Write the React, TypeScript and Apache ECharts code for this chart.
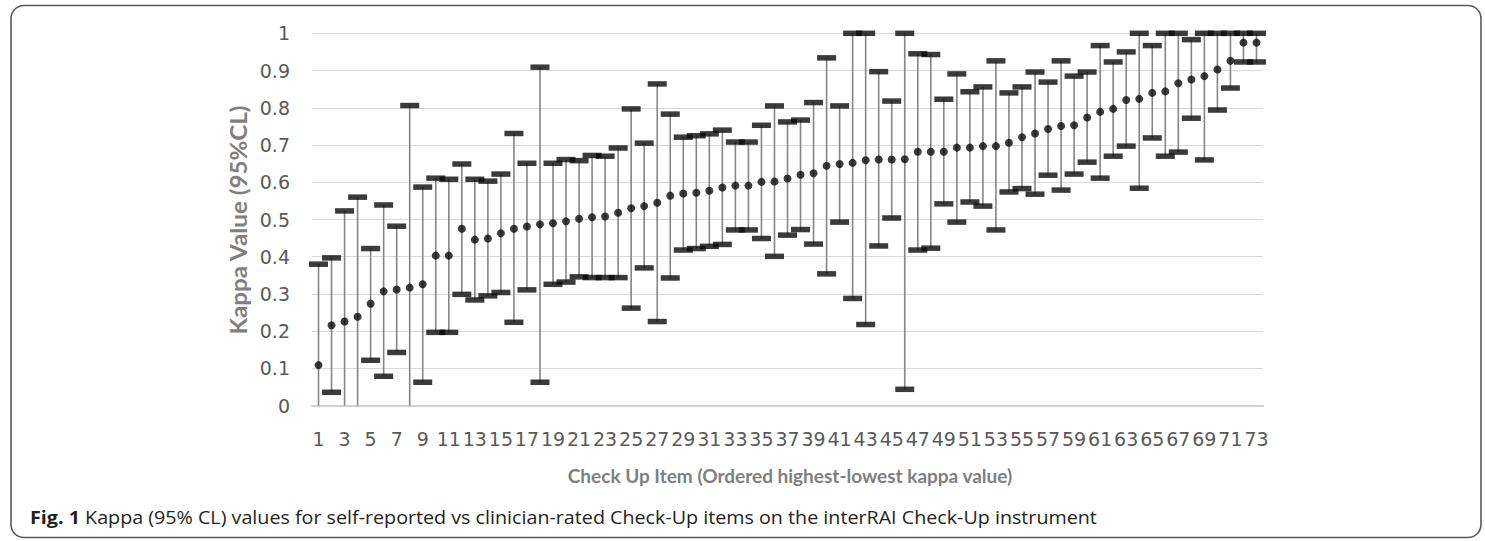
import React, { useEffect, useRef } from "react";
import * as echarts from "echarts";

// Check Up items (ordered), 1..73
const items: string[] = [
  "1","2","3","4","5","6","7","8","9","10","11","12","13","14","15","16","17","18","19","20",
  "21","22","23","24","25","26","27","28","29","30","31","32","33","34","35","36","37","38","39","40",
  "41","42","43","44","45","46","47","48","49","50","51","52","53","54","55","56","57","58","59","60",
  "61","62","63","64","65","66","67","68","69","70","71","72","73",
];

// Kappa point estimates
const kappa: number[] = [
  0.109, 0.216, 0.226, 0.239, 0.274, 0.307, 0.312, 0.317, 0.326, 0.403,
  0.403, 0.475, 0.446, 0.449, 0.463, 0.475, 0.481, 0.487, 0.490, 0.495,
  0.502, 0.506, 0.508, 0.518, 0.530, 0.536, 0.545, 0.564, 0.570, 0.572,
  0.577, 0.586, 0.591, 0.591, 0.601, 0.602, 0.610, 0.620, 0.624, 0.644,
  0.649, 0.652, 0.659, 0.661, 0.661, 0.662, 0.682, 0.682, 0.682, 0.693,
  0.693, 0.697, 0.697, 0.706, 0.721, 0.731, 0.743, 0.751, 0.753, 0.774,
  0.789, 0.797, 0.821, 0.824, 0.840, 0.844, 0.866, 0.876, 0.885, 0.903,
  0.926, 0.975, 0.975,
];

// Upper 95% confidence limit
const upperCL: number[] = [
  0.380, 0.397, 0.523, 0.560, 0.422, 0.539, 0.482, 0.806, 0.587, 0.611,
  0.608, 0.649, 0.608, 0.603, 0.622, 0.731, 0.651, 0.909, 0.651, 0.661,
  0.658, 0.672, 0.670, 0.692, 0.797, 0.705, 0.864, 0.783, 0.721, 0.725,
  0.730, 0.740, 0.708, 0.708, 0.753, 0.805, 0.762, 0.767, 0.814, 0.934,
  0.805, 1.000, 1.000, 0.897, 0.818, 1.000, 0.945, 0.943, 0.823, 0.891,
  0.843, 0.856, 0.926, 0.840, 0.856, 0.896, 0.869, 0.926, 0.885, 0.896,
  0.967, 0.923, 0.950, 1.000, 0.967, 1.000, 1.000, 0.983, 1.000, 1.000,
  1.000, 1.000, 1.000,
];

// Lower 95% confidence limit (0 = below the axis, clipped)
const lowerCL: number[] = [
  0.000, 0.036, 0.000, 0.000, 0.122, 0.079, 0.143, 0.000, 0.063, 0.197,
  0.197, 0.299, 0.284, 0.295, 0.304, 0.224, 0.311, 0.063, 0.326, 0.332,
  0.346, 0.344, 0.344, 0.344, 0.262, 0.370, 0.226, 0.343, 0.418, 0.422,
  0.428, 0.433, 0.472, 0.472, 0.449, 0.401, 0.458, 0.473, 0.434, 0.354,
  0.493, 0.288, 0.218, 0.429, 0.504, 0.044, 0.418, 0.423, 0.542, 0.493,
  0.547, 0.536, 0.472, 0.574, 0.583, 0.568, 0.619, 0.579, 0.622, 0.654,
  0.611, 0.670, 0.697, 0.584, 0.719, 0.670, 0.681, 0.772, 0.660, 0.794,
  0.853, 0.923, 0.923,
];

const yTitle = "Kappa Value (95%CL)";
const xTitle = "Check Up Item (Ordered highest-lowest kappa value)";
const captionBold = "Fig. 1";
const captionText =
  " Kappa (95% CL) values for self-reported vs clinician-rated Check-Up items on the interRAI Check-Up instrument";

const TICK_FONT = "'DejaVu Sans', 'Open Sans', sans-serif";
const TITLE_FONT = "Lato, 'Open Sans', sans-serif";
const CAPTION_FONT = "'Open Sans', Lato, sans-serif";

export default function App() {
  const ref = useRef<HTMLDivElement>(null);

  useEffect(() => {
    if (!ref.current) return;
    const chart = echarts.init(ref.current, undefined, { renderer: "svg" });

    const rangeData = items.map((_, i) => [i, lowerCL[i], upperCL[i]]);
    const lowerCaps = lowerCL.map((v) => (v > 0 ? v : "-"));

    chart.setOption({
      animation: false,
      backgroundColor: "#ffffff",
      textStyle: { fontFamily: TICK_FONT },
      grid: {
        left: 312,
        right: 222,
        top: 33.3,
        bottom: 135.3,
        containLabel: false,
      },
      xAxis: {
        type: "category",
        data: items,
        boundaryGap: true,
        axisTick: { show: false },
        axisLine: { lineStyle: { color: "#d0d0d0", width: 2 } },
        axisLabel: {
          interval: 1,
          color: "#595959",
          fontSize: 19,
          fontFamily: TICK_FONT,
          margin: 24,
        },
        splitLine: { show: false },
      },
      yAxis: {
        type: "value",
        min: 0,
        max: 1,
        interval: 0.1,
        axisLine: { show: false },
        axisTick: { show: false },
        axisLabel: {
          color: "#595959",
          fontSize: 19,
          fontFamily: TICK_FONT,
          margin: 22,
        },
        splitLine: { lineStyle: { color: "#d9d9d9", width: 1 } },
      },
      series: [
        {
          name: "CI",
          type: "custom",
          data: rangeData,
          encode: { x: 0, y: [1, 2] },
          clip: false,
          z: 1,
          renderItem: (params: any, api: any) => {
            const x = api.value(0);
            const lo = api.coord([x, api.value(1)]);
            const hi = api.coord([x, api.value(2)]);
            return {
              type: "line",
              shape: { x1: lo[0], y1: lo[1], x2: hi[0], y2: hi[1] },
              style: { stroke: "#858585", lineWidth: 1.6 },
            };
          },
        },
        {
          name: "Upper CL",
          type: "scatter",
          data: upperCL,
          symbol: "rect",
          symbolSize: [19, 5.5],
          itemStyle: { color: "#0a0a0a" },
          clip: false,
          z: 3,
        },
        {
          name: "Lower CL",
          type: "scatter",
          data: lowerCaps,
          symbol: "rect",
          symbolSize: [19, 5.5],
          itemStyle: { color: "#0a0a0a" },
          clip: false,
          z: 3,
        },
        {
          name: "Kappa",
          type: "scatter",
          data: kappa,
          symbol: "circle",
          symbolSize: 8,
          itemStyle: { color: "#0a0a0a" },
          clip: false,
          z: 4,
        },
      ],
      graphic: [
        {
          type: "rect",
          shape: { x: 11, y: 5.5, width: 1470, height: 532, r: 13 },
          style: { fill: "none", stroke: "#5a5a5a", lineWidth: 1.6 },
          z: 0,
        },
        {
          type: "text",
          x: 238,
          y: 220,
          rotation: Math.PI / 2,
          scaleX: 1.1,
          style: {
            text: yTitle,
            fontFamily: TITLE_FONT,
            fontWeight: "bold",
            fontSize: 22,
            fill: "#7f7f7f",
            align: "center",
            verticalAlign: "middle",
          },
        },
        {
          type: "text",
          x: 790,
          y: 475,
          style: {
            text: xTitle,
            fontFamily: TITLE_FONT,
            fontWeight: "bold",
            fontSize: 19,
            fill: "#7f7f7f",
            align: "center",
            verticalAlign: "middle",
          },
        },
        {
          type: "text",
          x: 30,
          y: 517,
          scaleX: 1.095,
          style: {
            text: "{b|" + captionBold + "}{r|" + captionText + "}",
            fontFamily: CAPTION_FONT,
            fontSize: 18,
            fill: "#231f20",
            align: "left",
            verticalAlign: "middle",
            rich: {
              b: { fontFamily: CAPTION_FONT, fontWeight: "bold", fontSize: 18, fill: "#231f20" },
              r: { fontFamily: CAPTION_FONT, fontSize: 18, fill: "#231f20" },
            },
          },
        },
      ],
    });

    return () => {
      chart.dispose();
    };
  }, []);

  return (
    <div
      ref={ref}
      style={{
        position: "absolute",
        left: 0,
        top: 0,
        width: 1485,
        height: 541,
        background: "#ffffff",
      }}
    />
  );
}
